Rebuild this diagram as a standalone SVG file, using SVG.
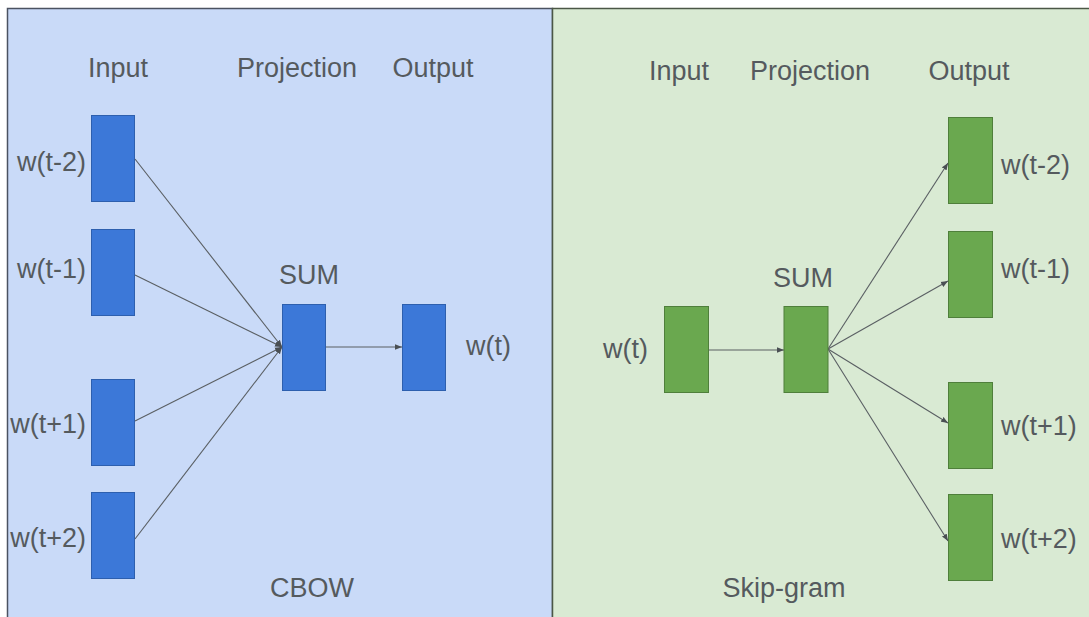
<svg xmlns="http://www.w3.org/2000/svg" width="1089" height="617" viewBox="0 0 1089 617">
<style>
text{font-family:"Liberation Sans",Arial,sans-serif;font-size:27px;fill:#555a5e}
.mid{text-anchor:middle}
.end{text-anchor:end}
.b{fill:#3c78d8;stroke:#2d5fae;stroke-width:1}
.g{fill:#6aa84f;stroke:#4f7f3b;stroke-width:1}
.c{stroke:#5a5f63;stroke-width:1.1;fill:none;marker-end:url(#ah)}
</style>
<defs>
<marker id="ah" viewBox="0 0 10 10" refX="10" refY="5" markerWidth="7" markerHeight="7" markerUnits="userSpaceOnUse" orient="auto">
<path d="M0,1 L10,5 L0,9 Z" fill="#4a4f53"/>
</marker>
</defs>
<rect width="1089" height="617" fill="#ffffff"/>
<g id="panel-cbow">
<rect x="7.5" y="8.5" width="545" height="615" fill="#c9daf8" stroke="#4b5261" stroke-width="1.5"/>
</g>
<g id="panel-skipgram">
<rect x="552.5" y="8.5" width="545" height="615" fill="#d9ead3" stroke="#4b5746" stroke-width="1.5"/>
</g>
<g id="connectors">
<line class="c" x1="135" y1="159" x2="282" y2="347"/>
<line class="c" x1="135" y1="275" x2="282" y2="347"/>
<line class="c" x1="135" y1="421" x2="282" y2="347"/>
<line class="c" x1="135" y1="539" x2="282" y2="347"/>
<line class="c" x1="326" y1="347" x2="402" y2="347"/>
<line class="c" x1="708" y1="350" x2="784" y2="350"/>
<line class="c" x1="828" y1="349" x2="948" y2="163"/>
<line class="c" x1="828" y1="349" x2="948" y2="281"/>
<line class="c" x1="828" y1="349" x2="948" y2="423"/>
<line class="c" x1="828" y1="349" x2="948" y2="541"/>
</g>
<g id="cbow-headers">
<text class="mid" x="118" y="77">Input</text>
<text class="mid" x="297" y="77">Projection</text>
<text class="mid" x="433" y="77">Output</text>
</g>
<g id="cbow-in-tm2"><rect class="b" x="91.5" y="115.5" width="43" height="86"/><text class="end" x="86" y="171">w(t-2)</text></g>
<g id="cbow-in-tm1"><rect class="b" x="91.5" y="229.5" width="43" height="86"/><text class="end" x="86" y="278">w(t-1)</text></g>
<g id="cbow-in-tp1"><rect class="b" x="91.5" y="379.5" width="43" height="86"/><text class="end" x="86" y="433">w(t+1)</text></g>
<g id="cbow-in-tp2"><rect class="b" x="91.5" y="492.5" width="43" height="86"/><text class="end" x="86" y="547">w(t+2)</text></g>
<g id="cbow-sum"><rect class="b" x="282.5" y="304.5" width="43" height="86"/><text class="mid" x="309" y="284">SUM</text></g>
<g id="cbow-out"><rect class="b" x="402.5" y="304.5" width="43" height="86"/><text x="466" y="355">w(t)</text></g>
<g id="cbow-title"><text class="mid" x="312" y="597">CBOW</text></g>
<g id="sg-headers">
<text class="mid" x="679" y="80">Input</text>
<text class="mid" x="810" y="80">Projection</text>
<text class="mid" x="969" y="80">Output</text>
</g>
<g id="sg-in"><rect class="g" x="664.5" y="306.5" width="44" height="86"/><text class="end" x="648" y="358">w(t)</text></g>
<g id="sg-sum"><rect class="g" x="784" y="306.5" width="44" height="86"/><text class="mid" x="803" y="287">SUM</text></g>
<g id="sg-out-tm2"><rect class="g" x="948.5" y="117.5" width="44" height="86"/><text x="1001" y="174">w(t-2)</text></g>
<g id="sg-out-tm1"><rect class="g" x="948.5" y="231.5" width="44" height="86"/><text x="1001" y="278">w(t-1)</text></g>
<g id="sg-out-tp1"><rect class="g" x="948.5" y="382.5" width="44" height="86"/><text x="1001" y="435">w(t+1)</text></g>
<g id="sg-out-tp2"><rect class="g" x="948.5" y="494.5" width="44" height="86"/><text x="1001" y="548">w(t+2)</text></g>
<g id="sg-title"><text class="mid" x="784" y="597">Skip-gram</text></g>
</svg>
